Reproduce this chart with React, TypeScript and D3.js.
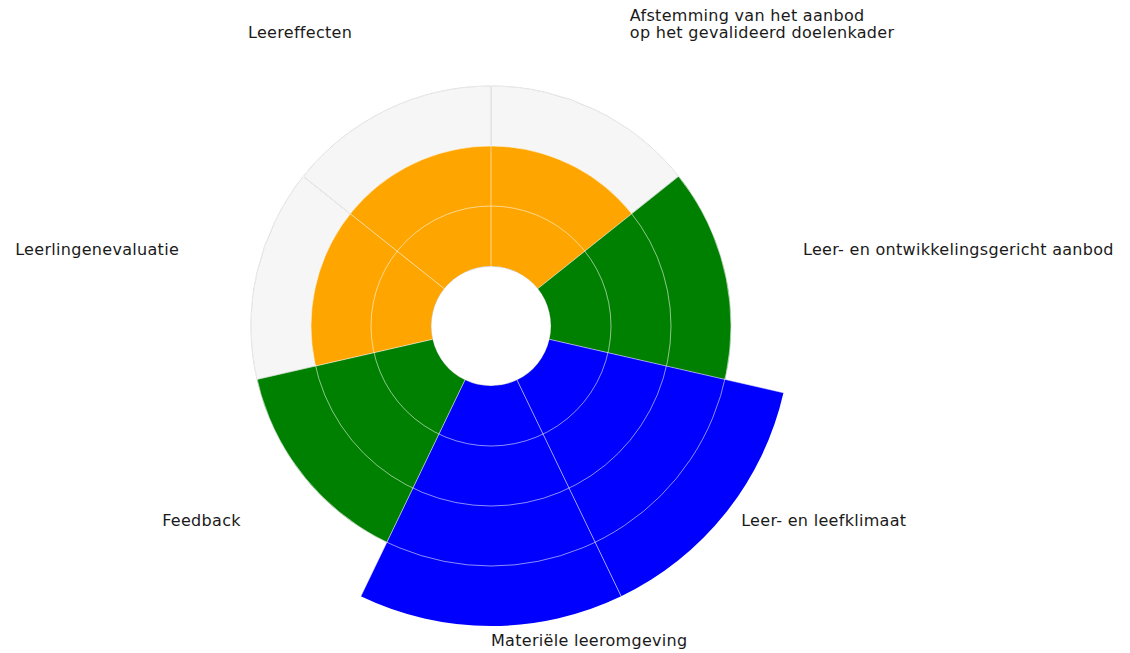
import { arc, scaleLinear, scaleOrdinal } from "d3";

// categories clockwise from 12 o'clock
const categories = [
    ["Afstemming van het aanbod", "op het gevalideerd doelenkader"],
    ["Leer- en ontwikkelingsgericht aanbod"],
    ["Leer- en leefklimaat"],
    ["Materiële leeromgeving"],
    ["Feedback"],
    ["Leerlingenevaluatie"],
    ["Leereffecten"],
];
const scores = [2, 3, 4, 4, 3, 2, 2];
const maxScore = 3; // grey background bars
const levels = [1, 2, 3, 4];
const levelColors = ["#ff0000", "#ffa500", "#008000", "#0000ff"];

const W = 1130;
const H = 653;
const cx = 491;
const cy = 326;

export default function App() {
    const r = scaleLinear().domain([0, 4]).range([60, 300]);
    const color = scaleOrdinal<number, string>().domain(levels).range(levelColors);
    const step = (2 * Math.PI) / categories.length;

    const wedge = arc<{ i: number; v: number }>()
        .innerRadius(r(0))
        .outerRadius((d) => r(d.v))
        .startAngle((d) => d.i * step)
        .endAngle((d) => (d.i + 1) * step);

    const gridRings = [1, 2, 3];

    return (
        <svg
            width={W}
            height={H}
            style={{ position: "absolute", left: 0, top: 0, background: "#fff" }}
        >
            <g transform={`translate(${cx},${cy})`}>
                {/* background bars up to the max */}
                {categories.map((_, i) => (
                    <path
                        key={`bg${i}`}
                        d={wedge({ i, v: maxScore }) ?? ""}
                        fill="#f6f6f6"
                        stroke="#cfcfcf"
                        strokeWidth={1}
                    />
                ))}
                {/* score bars */}
                {scores.map((v, i) => (
                    <path
                        key={`bar${i}`}
                        d={wedge({ i, v }) ?? ""}
                        fill={color(v)}
                    />
                ))}
                {/* grid on top, like matplotlib */}
                {gridRings.map((t) => (
                    <circle
                        key={`ring${t}`}
                        r={r(t)}
                        fill="none"
                        stroke="#fff"
                        strokeOpacity={0.55}
                        strokeWidth={1}
                    />
                ))}
                {categories.map((_, i) => {
                    const a = i * step;
                    return (
                        <line
                            key={`spoke${i}`}
                            x1={r(0) * Math.sin(a)}
                            y1={-r(0) * Math.cos(a)}
                            x2={r(4) * Math.sin(a)}
                            y2={-r(4) * Math.cos(a)}
                            stroke="#fff"
                            strokeOpacity={0.55}
                            strokeWidth={1}
                        />
                    );
                })}
                {/* labels */}
                {categories.map((lines, i) => {
                    const a = (i + 0.5) * step;
                    const rr = r(4) + 20;
                    const x = rr * Math.sin(a);
                    const y = -rr * Math.cos(a);
                    const anchor = Math.sin(a) > -0.01 ? "start" : "end";
                    return (
                        <text
                            key={`lab${i}`}
                            transform={`translate(${x},${y})`}
                            textAnchor={anchor}
                            fontFamily="DejaVu Sans, sans-serif"
                            fontSize={16}
                            letterSpacing={0.3}
                            fill="#1a1a1a"
                        >
                            {lines.map((ln, k) => (
                                <tspan
                                    key={k}
                                    x={0}
                                    y={(k - (lines.length - 1)) * 17}
                                >
                                    {ln}
                                </tspan>
                            ))}
                        </text>
                    );
                })}
            </g>
        </svg>
    );
}
